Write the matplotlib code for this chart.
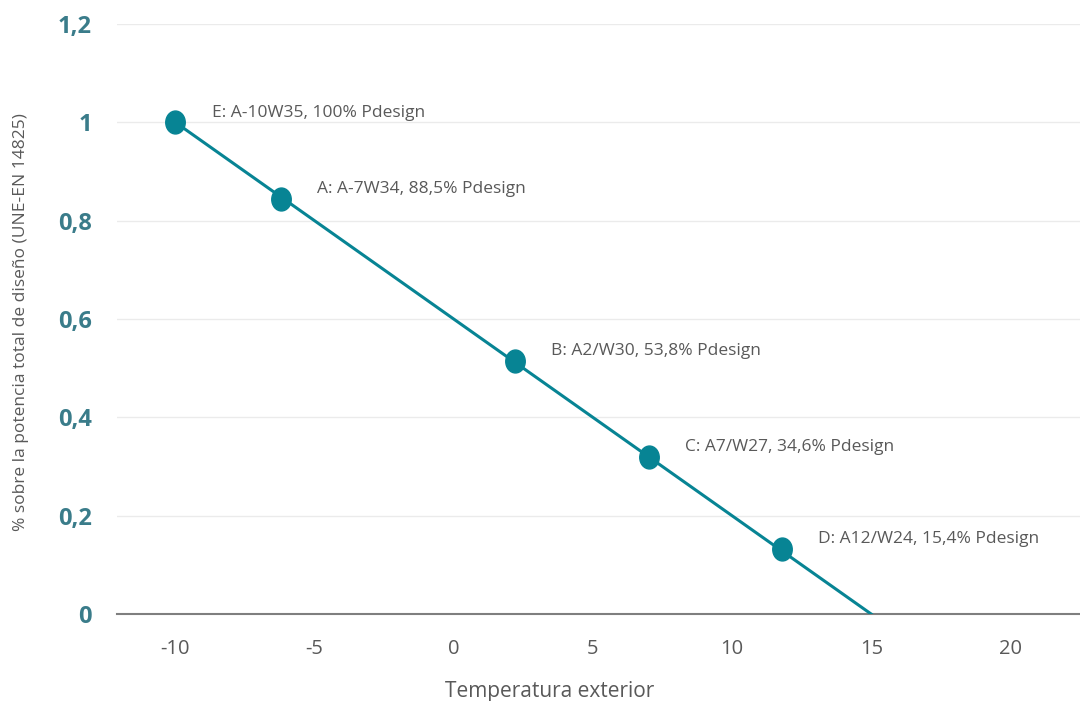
#! /usr/bin/env python3

import matplotlib
matplotlib.use("Agg")
import matplotlib.pyplot as plt
from matplotlib.path import Path
from matplotlib.transforms import Affine2D

# data
temps = [-10, -6.2, 2.2, 7.0, 11.8]
loads = [1.0, 0.845, 0.515, 0.32, 0.132]
labels = ["E: A-10W35, 100% Pdesign",
          "A: A-7W34, 88,5% Pdesign",
          "B: A2/W30, 53,8% Pdesign",
          "C: A7/W27, 34,6% Pdesign",
          "D: A12/W24, 15,4% Pdesign"]
line_x = [-10, 15]
line_y = [1.0, 0.0]
x_ticks = [-10, -5, 0, 5, 10, 15, 20]
y_ticks = [0, 0.2, 0.4, 0.6, 0.8, 1.0, 1.2]
y_ticklabels = ["0", "0,2", "0,4", "0,6", "0,8", "1", "1,2"]

teal = "#078494"
grey_txt = "#595959"

plt.rcParams['font.family'] = ['Open Sans', 'DejaVu Sans']

# slightly tall ellipse like the excel marker
ellipse = Path.unit_circle().transformed(Affine2D().scale(0.85, 1.0))

fig = plt.figure(figsize=(10.8, 7.01), dpi=100)
ax = fig.add_axes([0.1083, 0.124, 0.8917, 0.8417])

ax.plot(line_x, line_y, color=teal, lw=2.2, zorder=3)
ax.plot(temps, loads, linestyle='none', marker=ellipse, color=teal, ms=16.5, zorder=4)

for t, v, lab in zip(temps, loads, labels):
    ax.annotate(lab, (t, v), xytext=(26, 7), textcoords='offset points',
                fontsize=12.5, color=grey_txt, va='center', ha='left')

ax.set_xlim(-12.1, 22.5)
ax.set_ylim(0, 1.2)
ax.set_xticks(x_ticks)
ax.set_xticklabels([str(x) for x in x_ticks], fontsize=14.5, color=grey_txt)
ax.set_yticks(y_ticks)
ax.set_yticklabels(y_ticklabels, fontsize=17, fontweight='bold', color="#3A7C8A")
ax.tick_params(length=0, axis='y', pad=18)
ax.tick_params(length=0, axis='x', pad=18)

ax.grid(axis='y', color="#EBEBEB", lw=1)
ax.set_axisbelow(True)
for s in ['top', 'right', 'left']:
    ax.spines[s].set_visible(False)
ax.spines['bottom'].set_color("#7F7F7F")
ax.spines['bottom'].set_linewidth(1.5)

ax.set_xlabel("Temperatura exterior", fontsize=15, color=grey_txt, labelpad=16)
ax.xaxis.label.set_x(0.449)
fig.text(0.019, 0.54, "% sobre la potencia total de diseño (UNE-EN 14825)",
         rotation=90, fontsize=12.5, color=grey_txt, ha='center', va='center')

fig.savefig("out.png", dpi=100)
